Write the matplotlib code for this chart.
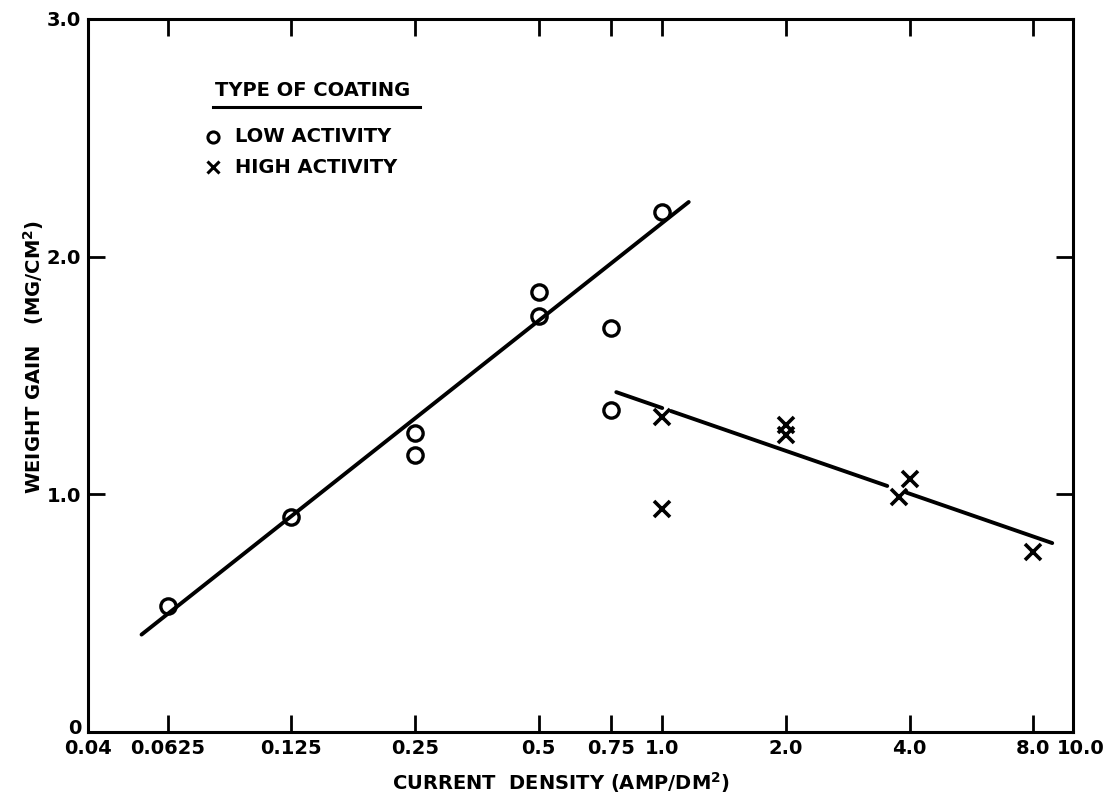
import matplotlib
matplotlib.use('Agg')
import matplotlib.pyplot as plt
import matplotlib.transforms as mtransforms
import numpy as np
from matplotlib.ticker import NullLocator

plt.rcParams.update({
    'font.family': ['DejaVu Sans'],
    'font.weight': 'bold',
    'font.size': 14,
    'axes.linewidth': 2.2,
})

# low activity coatings (circles)
low_x = [0.0625, 0.125, 0.25, 0.25, 0.5, 0.5, 0.75, 0.75, 1.0]
low_y = [0.53, 0.905, 1.26, 1.165, 1.85, 1.75, 1.70, 1.355, 2.19]

# high activity coatings (crosses)
high_x = [1.0, 1.0, 2.0, 2.0, 3.76, 4.0, 8.0]
high_y = [1.325, 0.94, 1.29, 1.25, 0.99, 1.065, 0.757]

# hand drawn fit lines (end points)
fit_low_x = [0.054, 1.16]
fit_low_y = [0.41, 2.23]
fit_high_x = [0.773, 8.9]
fit_high_y = [1.43, 0.795]
# breaks in the high activity line, where it passes the crosses
high_breaks = [(1.0, 1.05), (3.53, 3.93)]

x_ticks = [0.04, 0.0625, 0.125, 0.25, 0.5, 0.75, 1.0, 2.0, 4.0, 8.0, 10.0]
x_labels = ['0.04', '0.0625', '0.125', '0.25', '0.5', '0.75', '1.0', '2.0',
            '4.0', '8.0', '10.0']
y_ticks = [0, 1.0, 2.0, 3.0]
y_labels = ['0', '1.0', '2.0', '3.0']

fig = plt.figure(figsize=(11.07, 8.01), dpi=100)
ax = fig.add_axes([0.0795, 0.0861, 0.8898, 0.8902])

ax.set_xscale('log')
ax.set_xlim(0.04, 10.0)
ax.set_ylim(0, 3.0)

# fit lines
ax.plot(fit_low_x, fit_low_y, color='black', linewidth=2.8, solid_capstyle='round')

lx0, lx1 = np.log10(fit_high_x)
slope = (fit_high_y[1] - fit_high_y[0]) / (lx1 - lx0)
edges = [fit_high_x[0]] + [v for b in high_breaks for v in b] + [fit_high_x[1]]
for a, b in zip(edges[0::2], edges[1::2]):
    xs = np.array([a, b])
    ys = fit_high_y[0] + slope * (np.log10(xs) - lx0)
    ax.plot(xs, ys, color='black', linewidth=2.8, solid_capstyle='round')

# data points
ax.plot(low_x, low_y, linestyle='none', marker='o', markersize=11,
        markerfacecolor='none', markeredgecolor='black', markeredgewidth=2.4)
ax.plot(high_x, high_y, linestyle='none', marker='x', markersize=12,
        color='black', markeredgewidth=2.6)

# ticks
ax.set_xticks(x_ticks)
ax.set_xticklabels(x_labels)
ax.xaxis.set_minor_locator(NullLocator())
ax.set_yticks(y_ticks)
ax.set_yticklabels(y_labels)
ax.tick_params(which='major', direction='in', top=True, right=True,
               length=12, width=2.0, labelsize=14, pad=5)

# nudge the last x label so "8.0" and "10.0" don't run together
shift = mtransforms.ScaledTranslation(8 / 100, 0, fig.dpi_scale_trans)
last = ax.get_xticklabels()[-1]
last.set_transform(last.get_transform() + shift)

# lift the y "0" a little so it sits above "0.04"
lift = mtransforms.ScaledTranslation(0, 6 / 100, fig.dpi_scale_trans)
zero = ax.get_yticklabels()[0]
zero.set_transform(zero.get_transform() + lift)

ax.set_xlabel('CURRENT  DENSITY (AMP/DM$^\\mathbf{2}$)', fontsize=14, fontweight='bold')
ax.set_ylabel('WEIGHT GAIN   (MG/CM$^\\mathbf{2}$)', fontsize=14, fontweight='bold')
ax.xaxis.set_label_coords(0.48, -0.053)
ax.yaxis.set_label_coords(-0.043, 0.526)

# hand lettered key
ax.text(0.129, 0.900, 'TYPE OF COATING', transform=ax.transAxes,
        fontsize=14, fontweight='bold', va='center', ha='left')
ax.plot([0.127, 0.337], [0.877, 0.877], transform=ax.transAxes,
        color='black', linewidth=2.2)
ax.plot([0.127], [0.835], transform=ax.transAxes, marker='o', markersize=8,
        markerfacecolor='none', markeredgecolor='black', markeredgewidth=2.2)
ax.plot([0.127], [0.792], transform=ax.transAxes, marker='x', markersize=9,
        color='black', markeredgewidth=2.2)
ax.text(0.149, 0.835, 'LOW ACTIVITY', transform=ax.transAxes,
        fontsize=14, fontweight='bold', va='center', ha='left')
ax.text(0.149, 0.792, 'HIGH ACTIVITY', transform=ax.transAxes,
        fontsize=14, fontweight='bold', va='center', ha='left')

fig.savefig('out.png', dpi=100, facecolor='white')
